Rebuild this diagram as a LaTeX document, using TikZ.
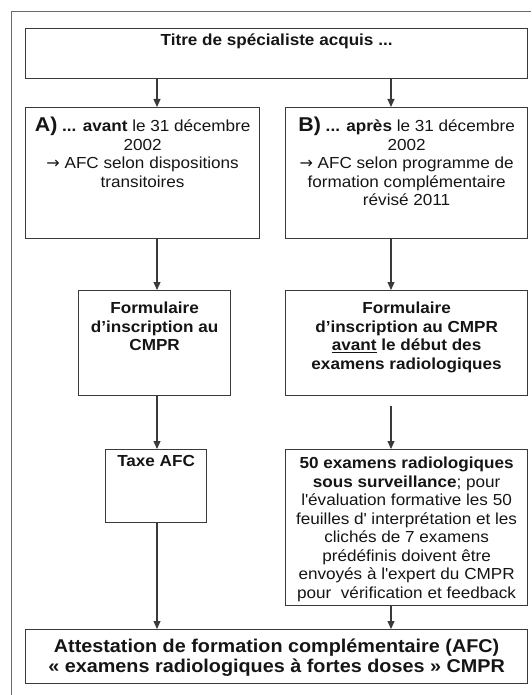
\documentclass[tikz,border=0pt]{standalone}
\usepackage{fontspec}
\setmainfont{Liberation Sans}[FakeStretch=1.07]
\newfontfamily\arrowfont{DejaVu Sans}
\usetikzlibrary{arrows.meta}
\definecolor{boxline}{HTML}{3A3A3A}
\definecolor{frameline}{HTML}{6A6A6A}
\definecolor{inktext}{HTML}{151515}
\newcommand{\fleche}{{\arrowfont →}}

\begin{document}
\begin{tikzpicture}[x=1pt,y=-1pt]
            \useasboundingbox (0,0) rectangle (531,695);
            \draw[frameline,line width=0.9pt] (11,695) -- (11,11) -- (531,11);
            \begin{scope}[every node/.style={draw=boxline,line width=1.2pt,anchor=north west,inner sep=0pt}]
                \node[minimum width=502,minimum height=50] (titre) at (25,28) {};
                \node[minimum width=234,minimum height=131] (avant) at (25,107) {};
                \node[minimum width=242,minimum height=131] (apres) at (285,107) {};
                \node[minimum width=152,minimum height=105] (formA) at (78,290) {};
                \node[minimum width=242,minimum height=105] (formB) at (285,290) {};
                \node[minimum width=101,minimum height=73] (taxe) at (105,449) {};
                \node[minimum width=242,minimum height=156] (examens) at (285,449) {};
                \node[minimum width=502,minimum height=54] (afc) at (25,629) {};
            \end{scope}
            \begin{scope}[every node/.style={anchor=north,align=center,inner sep=0pt,text=inktext,font=\fontsize{16}{18.5}\selectfont}]
                \node[font=\fontsize{16}{18.5}\selectfont\bfseries] (titre-t) at ([yshift=-6pt]titre.north) {Titre de spécialiste acquis ...};
                \node (avant-t) at ([yshift=-10pt]avant.north) {{\fontsize{20}{18}\selectfont\textbf{A)}} \textbf{... avant} le 31 décembre\\ 2002\\ \fleche{} AFC selon dispositions\\ transitoires};
                \node (apres-t) at ([yshift=-10pt]apres.north) {{\fontsize{20}{18}\selectfont\textbf{B)}} \textbf{... après} le 31 décembre\\ 2002\\ \fleche{} AFC selon programme de\\ formation complémentaire\\ révisé 2011};
                \node[font=\fontsize{16}{18.5}\selectfont\bfseries] (formA-t) at ([yshift=-12pt]formA.north) {Formulaire\\ d’inscription au\\ CMPR};
                \node[font=\fontsize{16}{18.5}\selectfont\bfseries] (formB-t) at ([yshift=-12pt]formB.north) {Formulaire\\ d’inscription au CMPR\\ \underline{avant} le début des\\ examens radiologiques};
                \node[font=\fontsize{16}{18.5}\selectfont\bfseries] (taxe-t) at ([yshift=-6pt]taxe.north) {Taxe AFC};
                \node (examens-t) at ([yshift=-8pt]examens.north) {\textbf{50 examens radiologiques}\\ \textbf{sous surveillance}; pour\\ l\textquotesingle évaluation formative les 50\\ feuilles d\textquotesingle{} interprétation et les\\ clichés de 7 examens\\ prédéfinis doivent être\\ envoyés à l\textquotesingle expert du CMPR\\ pour~ vérification et feedback};
                \node[font=\fontsize{18.5}{20}\selectfont\bfseries] (afc-t) at ([yshift=-10pt]afc.north) {Attestation de formation complémentaire (AFC)\\ « examens radiologiques à fortes doses » CMPR};
            \end{scope}
            \coordinate (colA) at (157,0);
            \coordinate (colB) at (391,0);
            \begin{scope}[every edge/.style={draw=boxline,line width=1.1pt,-{Triangle[length=8pt,width=7pt]}}]
                \path (titre.south -| colA) edge (avant.north -| colA);
                \path (titre.south -| colB) edge (apres.north -| colB);
                \path (avant.south -| colA) edge (formA.north -| colA);
                \path (apres.south -| colB) edge (formB.north -| colB);
                \path (formA.south -| colA) edge (taxe.north -| colA);
                \path (formB.south -| colB) edge[shorten <=10pt] (examens.north -| colB);
                \path (taxe.south -| colA) edge (afc.north -| colA);
                \path (examens.south -| colB) edge (afc.north -| colB);
            \end{scope}
        \end{tikzpicture}
\end{document}
